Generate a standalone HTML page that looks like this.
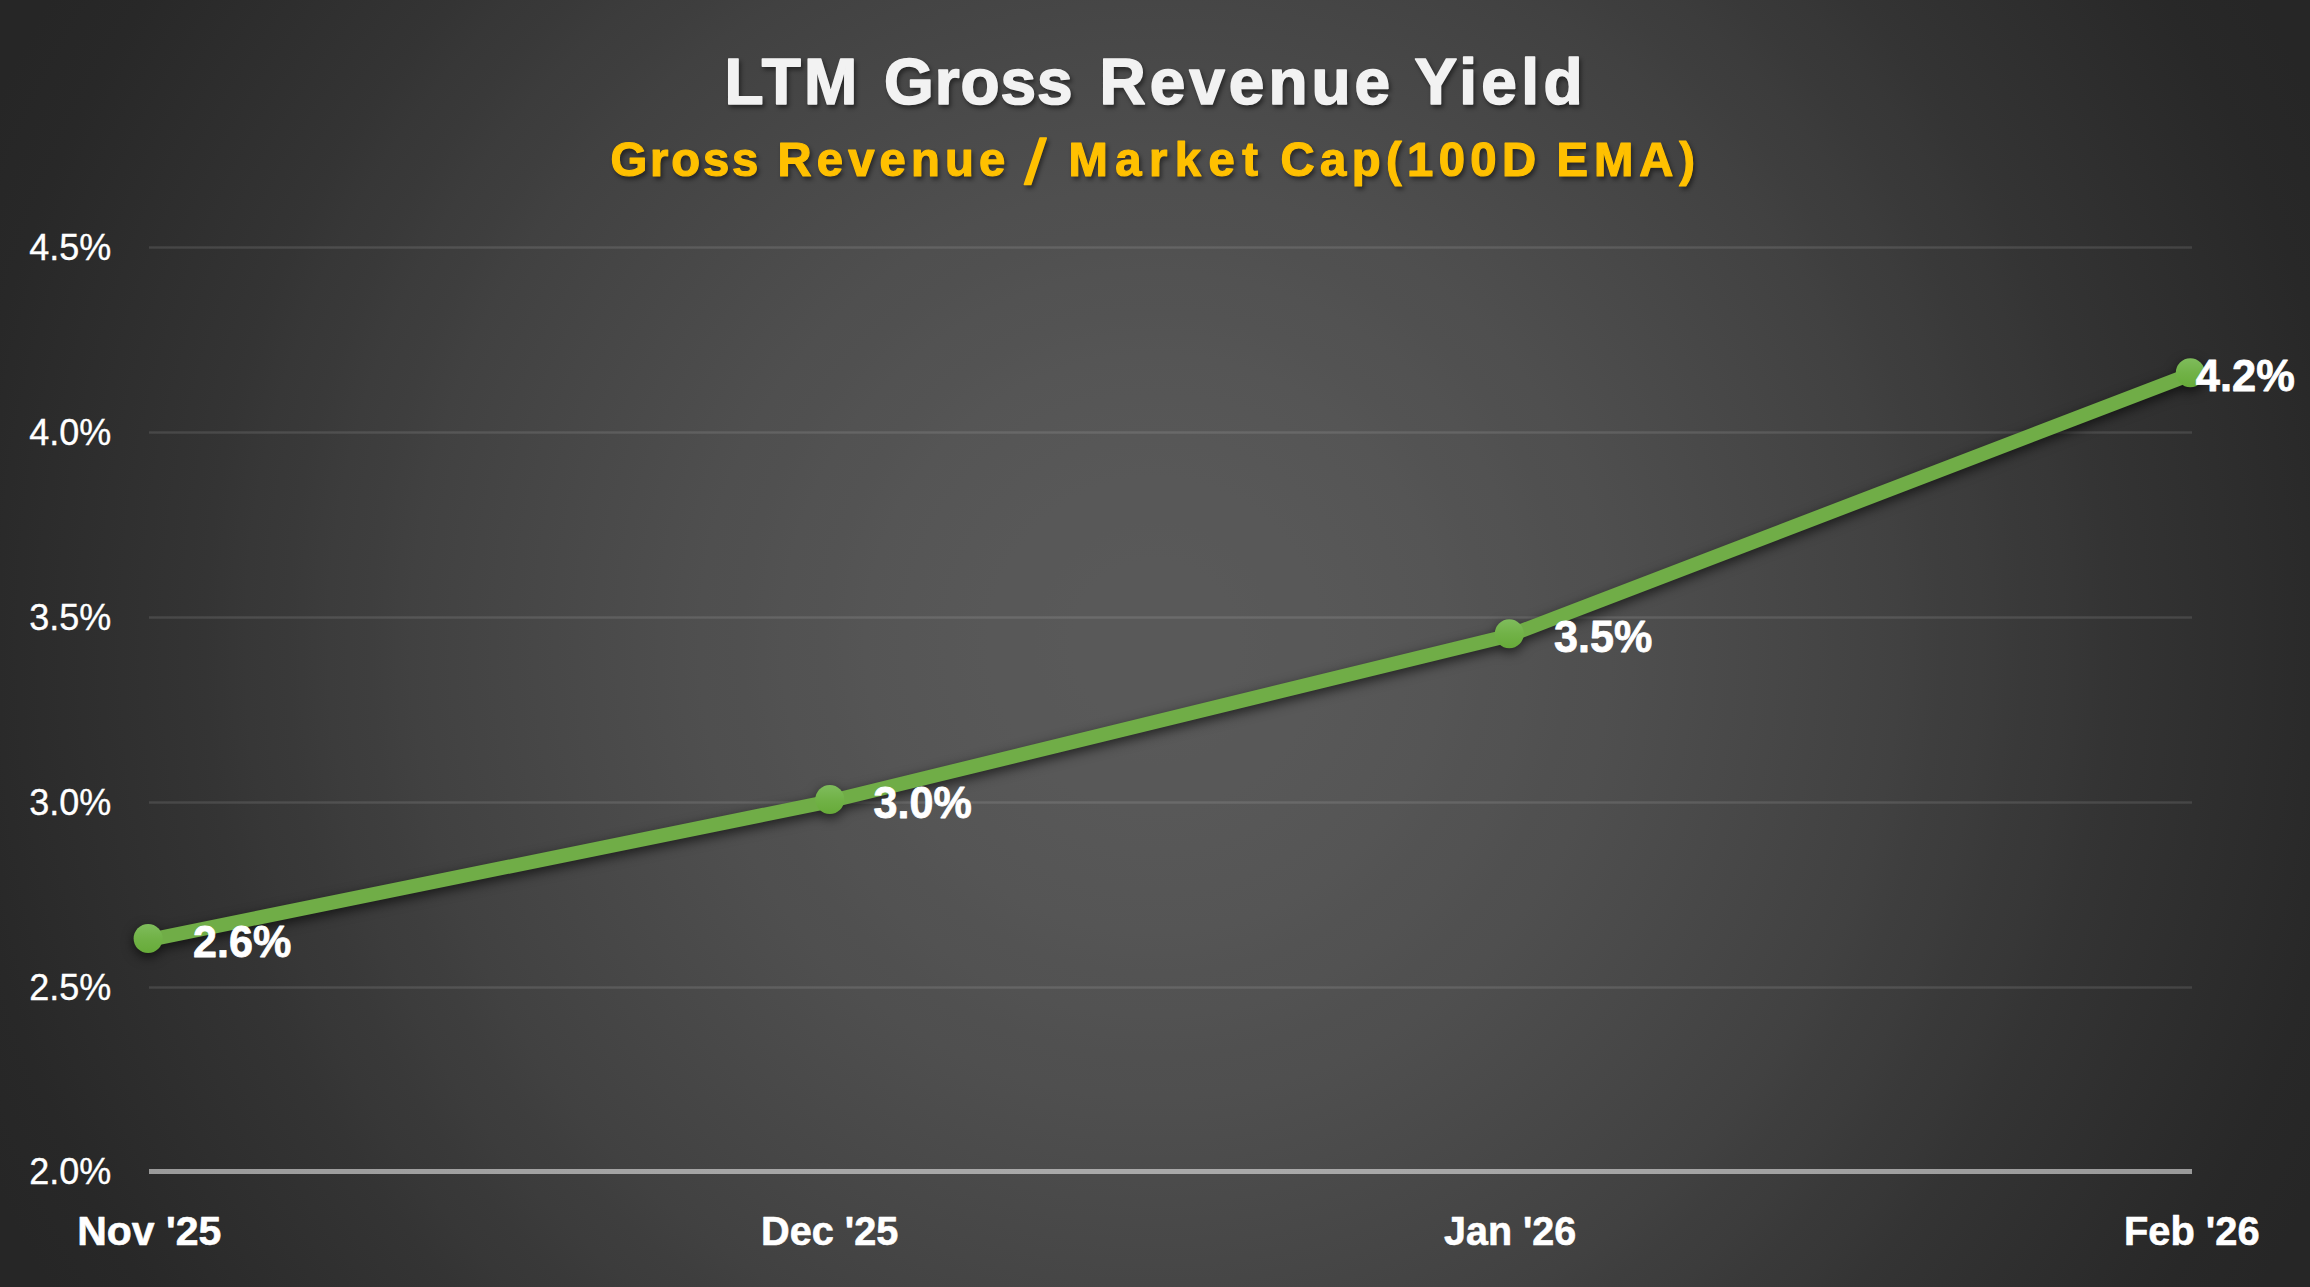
<!DOCTYPE html>
<html lang="en"><head><meta charset="utf-8"><title>LTM Gross Revenue Yield</title>
<style>
html,body{margin:0;padding:0;background:#262626;overflow:hidden}
body{width:2310px;height:1287px}
svg{display:block}
text{font-family:"Liberation Sans",sans-serif}
</style></head><body>
<svg width="2310" height="1287" viewBox="0 0 2310 1287">
<defs>
<radialGradient id="bg" gradientUnits="userSpaceOnUse" cx="1155.0" cy="643.5" r="1322.16">
<stop offset="0.0000" stop-color="rgb(89.00,89.00,89.00)"/>
<stop offset="0.0312" stop-color="rgb(88.90,88.90,88.90)"/>
<stop offset="0.0625" stop-color="rgb(88.61,88.61,88.61)"/>
<stop offset="0.0938" stop-color="rgb(88.14,88.14,88.14)"/>
<stop offset="0.1250" stop-color="rgb(87.50,87.50,87.50)"/>
<stop offset="0.1562" stop-color="rgb(86.69,86.69,86.69)"/>
<stop offset="0.1875" stop-color="rgb(85.73,85.73,85.73)"/>
<stop offset="0.2188" stop-color="rgb(84.63,84.63,84.63)"/>
<stop offset="0.2500" stop-color="rgb(83.38,83.38,83.38)"/>
<stop offset="0.2812" stop-color="rgb(82.00,82.00,82.00)"/>
<stop offset="0.3125" stop-color="rgb(80.49,80.49,80.49)"/>
<stop offset="0.3438" stop-color="rgb(78.86,78.86,78.86)"/>
<stop offset="0.3750" stop-color="rgb(77.11,77.11,77.11)"/>
<stop offset="0.4062" stop-color="rgb(75.25,75.25,75.25)"/>
<stop offset="0.4375" stop-color="rgb(73.28,73.28,73.28)"/>
<stop offset="0.4688" stop-color="rgb(71.22,71.22,71.22)"/>
<stop offset="0.5000" stop-color="rgb(69.08,69.08,69.08)"/>
<stop offset="0.5312" stop-color="rgb(66.85,66.85,66.85)"/>
<stop offset="0.5625" stop-color="rgb(64.54,64.54,64.54)"/>
<stop offset="0.5938" stop-color="rgb(62.18,62.18,62.18)"/>
<stop offset="0.6250" stop-color="rgb(59.78,59.78,59.78)"/>
<stop offset="0.6562" stop-color="rgb(57.34,57.34,57.34)"/>
<stop offset="0.6875" stop-color="rgb(54.89,54.89,54.89)"/>
<stop offset="0.7188" stop-color="rgb(52.45,52.45,52.45)"/>
<stop offset="0.7500" stop-color="rgb(50.06,50.06,50.06)"/>
<stop offset="0.7812" stop-color="rgb(47.74,47.74,47.74)"/>
<stop offset="0.8125" stop-color="rgb(45.53,45.53,45.53)"/>
<stop offset="0.8438" stop-color="rgb(43.50,43.50,43.50)"/>
<stop offset="0.8750" stop-color="rgb(41.68,41.68,41.68)"/>
<stop offset="0.9062" stop-color="rgb(40.16,40.16,40.16)"/>
<stop offset="0.9375" stop-color="rgb(39.00,39.00,39.00)"/>
<stop offset="0.9688" stop-color="rgb(38.26,38.26,38.26)"/>
<stop offset="1.0000" stop-color="rgb(38.00,38.00,38.00)"/>
</radialGradient>
<linearGradient id="mk" x1="0" y1="0" x2="0" y2="1">
<stop offset="0" stop-color="#7fbc5c"/><stop offset="0.5" stop-color="#71b247"/><stop offset="1" stop-color="#67ab39"/>
</linearGradient>
<filter id="ls" x="-5%" y="-10%" width="110%" height="125%" color-interpolation-filters="sRGB">
<feGaussianBlur in="SourceAlpha" stdDeviation="5.6"/><feOffset dx="0" dy="3.9" result="b"/>
<feFlood flood-color="#000" flood-opacity="0.63"/><feComposite in2="b" operator="in"/>
<feMerge><feMergeNode/><feMergeNode in="SourceGraphic"/></feMerge>
</filter>
<filter id="ts" x="-5%" y="-30%" width="110%" height="170%" color-interpolation-filters="sRGB">
<feGaussianBlur in="SourceAlpha" stdDeviation="2.2"/><feOffset dx="2" dy="3" result="b"/>
<feFlood flood-color="#000" flood-opacity="0.45"/><feComposite in2="b" operator="in"/>
<feMerge><feMergeNode/><feMergeNode in="SourceGraphic"/></feMerge>
</filter>
</defs>
<rect width="2310" height="1287" fill="url(#bg)"/>

<g stroke="#f2f2f2" stroke-opacity="0.12" stroke-width="2.6">
<line x1="149" y1="247.5" x2="2192" y2="247.5"/>
<line x1="149" y1="432.5" x2="2192" y2="432.5"/>
<line x1="149" y1="617.5" x2="2192" y2="617.5"/>
<line x1="149" y1="802.5" x2="2192" y2="802.5"/>
<line x1="149" y1="987.5" x2="2192" y2="987.5"/>
</g>
<rect x="149" y="1169" width="2043" height="5" fill="#f2f2f2" fill-opacity="0.56"/>
<g fill="#ffffff" stroke="#ffffff" stroke-width="0.35" font-size="37.3">
<text x="29.3" y="259.5" textLength="82" lengthAdjust="spacingAndGlyphs">4.5%</text>
<text x="29.3" y="444.5" textLength="82" lengthAdjust="spacingAndGlyphs">4.0%</text>
<text x="29.3" y="629.5" textLength="82" lengthAdjust="spacingAndGlyphs">3.5%</text>
<text x="29.3" y="814.5" textLength="82" lengthAdjust="spacingAndGlyphs">3.0%</text>
<text x="29.3" y="999.5" textLength="82" lengthAdjust="spacingAndGlyphs">2.5%</text>
<text x="29.3" y="1183.5" textLength="82" lengthAdjust="spacingAndGlyphs">2.0%</text>
</g>
<g fill="#ffffff" stroke="#ffffff" stroke-width="0.6" stroke-linejoin="round" font-size="40.5" font-weight="bold">
<text x="77.2" y="1245.2" textLength="144.1" lengthAdjust="spacingAndGlyphs">Nov '25</text>
<text x="761.0" y="1245.2" textLength="137.4" lengthAdjust="spacingAndGlyphs">Dec '25</text>
<text x="1444.0" y="1245.2" textLength="132.2" lengthAdjust="spacingAndGlyphs">Jan '26</text>
<text x="2124.0" y="1245.2" textLength="135.6" lengthAdjust="spacingAndGlyphs">Feb '26</text>
</g>
<text id="title" y="103.7" fill="#f2f2f2" stroke="#f2f2f2" stroke-width="1.6" stroke-linejoin="round" font-size="64" font-weight="bold" filter="url(#ts)">
<tspan x="724.5" y="103.7" textLength="132.8" lengthAdjust="spacing">LTM</tspan> <tspan x="884.0" y="103.7" textLength="188.7" lengthAdjust="spacing">Gross</tspan> <tspan x="1099.5" y="103.7" textLength="290.6" lengthAdjust="spacing">Revenue</tspan> <tspan x="1414.5" y="103.7" textLength="168.1" lengthAdjust="spacing">Yield</tspan>
</text>
<text id="subtitle" y="176.1" fill="#ffc000" stroke="#ffc000" stroke-width="1.2" stroke-linejoin="round" font-size="47.3" font-weight="bold" filter="url(#ts)">
<tspan x="610.5" y="176.1" textLength="147.9" lengthAdjust="spacing">Gross</tspan> <tspan x="777.5" y="176.1" textLength="227.8" lengthAdjust="spacing">Revenue</tspan> <tspan x="1024.5" y="183.5" font-size="62.436" font-weight="normal" stroke-width="1.4" textLength="21.7" lengthAdjust="spacingAndGlyphs">/</tspan> <tspan x="1068.5" y="176.1" textLength="189.4" lengthAdjust="spacing">Market</tspan> <tspan x="1280.5" y="176.1" textLength="255.7" lengthAdjust="spacing">Cap(100D</tspan> <tspan x="1556.5" y="176.1" textLength="138.5" lengthAdjust="spacing">EMA)</tspan>
</text>
<g filter="url(#ls)">
<path d="M148.1 940.1 L829.8 801.3 L1509.3 635.5 L2190.3 374.4" fill="none" stroke="#70ad47" stroke-width="14" stroke-linejoin="round" stroke-linecap="round"/>
<circle cx="148.1" cy="938.4" r="14.5" fill="url(#mk)"/>
<circle cx="829.8" cy="799.6" r="14.5" fill="url(#mk)"/>
<circle cx="1509.3" cy="633.8" r="14.5" fill="url(#mk)"/>
<circle cx="2190.3" cy="372.7" r="14.5" fill="url(#mk)"/>
</g>
<g fill="#ffffff" stroke="#ffffff" stroke-width="0.8" stroke-linejoin="round" font-size="45" font-weight="bold">
<text x="193.0" y="957.2" textLength="98.3" lengthAdjust="spacingAndGlyphs">2.6%</text>
<text x="873.6" y="817.6" textLength="98.2" lengthAdjust="spacingAndGlyphs">3.0%</text>
<text x="1554.0" y="652.3" textLength="98.2" lengthAdjust="spacingAndGlyphs">3.5%</text>
<text x="2195.8" y="390.5" textLength="99.0" lengthAdjust="spacingAndGlyphs">4.2%</text>
</g>
</svg></body></html>
